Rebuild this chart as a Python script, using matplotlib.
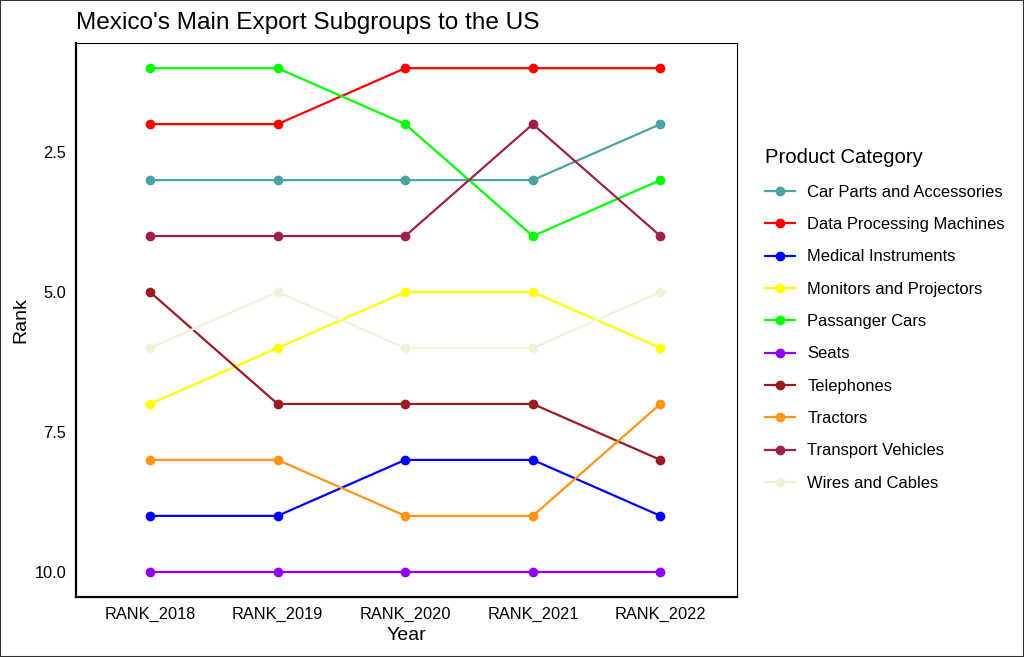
import matplotlib
matplotlib.use("Agg")
import matplotlib.pyplot as plt

plt.rcParams['font.family'] = ['Liberation Sans', 'DejaVu Sans']

years = ['RANK_2018', 'RANK_2019', 'RANK_2020', 'RANK_2021', 'RANK_2022']

categories = ['Car Parts and Accessories', 'Data Processing Machines', 'Medical Instruments',
              'Monitors and Projectors', 'Passanger Cars', 'Seats', 'Telephones',
              'Tractors', 'Transport Vehicles', 'Wires and Cables']

car_parts = [3, 3, 3, 3, 2]
data_proc = [2, 2, 1, 1, 1]
medical = [9, 9, 8, 8, 9]
monitors = [7, 6, 5, 5, 6]
pass_cars = [1, 1, 2, 4, 3]
seats = [10, 10, 10, 10, 10]
telephones = [5, 7, 7, 7, 8]
tractors = [8, 8, 9, 9, 7]
transport = [4, 4, 4, 2, 4]
wires = [6, 5, 6, 6, 5]

ranks = [car_parts, data_proc, medical, monitors, pass_cars, seats,
         telephones, tractors, transport, wires]

colors = ['#4aa3a3', '#ff0000', '#0000ff', '#ffff00', '#00ff00', '#9400f0',
          '#9b1b25', '#ff9514', '#9e2050', '#f0f2d8']

fig = plt.figure(figsize=(10.24, 6.57), dpi=100)
ax = fig.add_axes([76/1024, 1 - 597/657, (737-76)/1024, (597-43)/657])

x = list(range(len(years)))
for name, r, c in zip(categories, ranks, colors):
    ax.plot(x, r, color=c, lw=1.6, marker='o', markersize=6, label=name)

ax.set_xlim(-0.58, 4.6)
ax.set_ylim(10.45, 0.55)
ax.set_xticks(x)
ax.set_xticklabels(years)
ax.set_yticks([2.5, 5.0, 7.5, 10.0])
ax.set_yticklabels(['2.5', '5.0', '7.5', '10.0'])
ax.tick_params(length=0, labelsize=11.8, colors='black', pad=7)
ax.tick_params(axis='y', pad=7)

for s in ['top', 'right']:
    ax.spines[s].set_linewidth(0.8)
for s in ['left', 'bottom']:
    ax.spines[s].set_linewidth(1.6)

ax.set_xlabel('Year', fontsize=14, labelpad=4)
ax.set_ylabel('Rank', fontsize=14, labelpad=4)
ax.set_title("Mexico's Main Export Subgroups to the US", fontsize=17.6, loc='left', pad=10)

leg = fig.legend(*ax.get_legend_handles_labels(), title='Product Category', loc='upper left',
                 bbox_to_anchor=(752/1024, 1 - 135/657), frameon=False, fontsize=11.9,
                 title_fontsize=14.6, labelspacing=1.05, handlelength=1.8,
                 handletextpad=0.75, alignment='left', borderpad=0.3)

fig.patches.append(plt.Rectangle((0, 0), 1, 1, transform=fig.transFigure,
                                 fill=False, edgecolor='#333333', lw=1.5))

fig.savefig('out.png', dpi=100)
